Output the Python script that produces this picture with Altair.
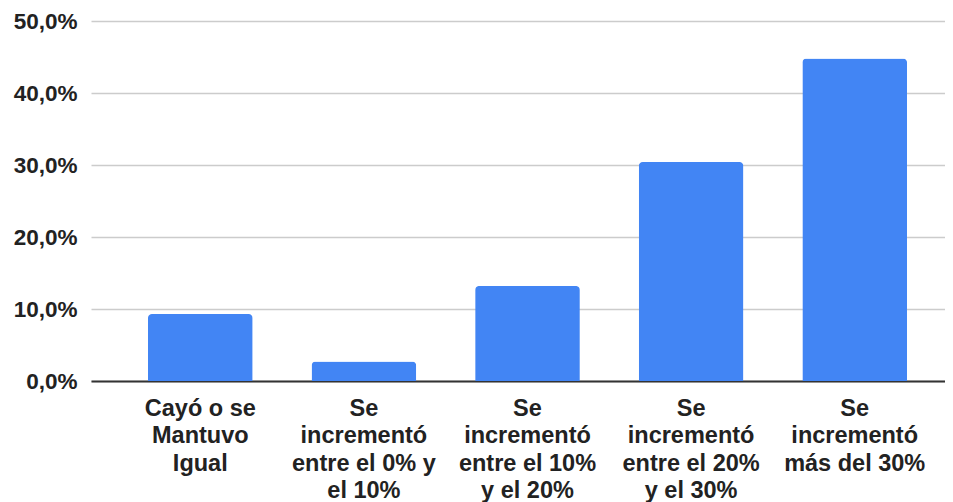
import altair as alt
import pandas as pd

categories = [
    "Cayó o se\nMantuvo\nIgual",
    "Se\nincrementó\nentre el 0% y\nel 10%",
    "Se\nincrementó\nentre el 10%\ny el 20%",
    "Se\nincrementó\nentre el 20%\ny el 30%",
    "Se\nincrementó\nmás del 30%",
]
values = [9.3, 2.7, 13.2, 30.4, 44.8]
y_ticks = [0, 10, 20, 30, 40, 50]

df = pd.DataFrame({"cat": categories, "val": values})

chart = alt.Chart(df).mark_bar(
    color="#4285F4",
    cornerRadiusTopLeft=4,
    cornerRadiusTopRight=4,
).encode(
    x=alt.X(
        "cat:N",
        sort=categories,
        title=None,
        scale=alt.Scale(paddingInner=0.36, paddingOuter=0.29, align=0.6),
        axis=alt.Axis(
            labelAngle=0,
            labelExpr="split(datum.label, '\\n')",
            labelFont="Liberation Sans",
            labelFontWeight="bold",
            labelFontSize=23.5,
            labelColor="#222222",
            labelLineHeight=27.5,
            labelPadding=15,
            labelBaseline="top",
            labelAlign="center",
            ticks=False,
            tickSize=0,
            domainColor="#333333",
            domainWidth=2,
            grid=False,
            labelOverlap=False,
            labelLimit=0,
        ),
    ),
    y=alt.Y(
        "val:Q",
        title=None,
        scale=alt.Scale(domain=[0, 50], nice=False),
        axis=alt.Axis(
            values=y_ticks,
            labelExpr="replace(format(datum.value, '.1f'), '.', ',') + '%'",
            labelFont="Liberation Sans",
            labelFontWeight="bold",
            labelFontSize=22.5,
            labelColor="#222222",
            labelPadding=14,
            ticks=False,
            tickSize=0,
            domain=False,
            gridColor="#cccccc",
            gridWidth=1.5,
        ),
    ),
).properties(
    width=854,
    height=360,
    autosize=alt.AutoSizeParams(type="none"),
    padding={"left": 83, "top": 13, "right": 0, "bottom": 121},
).configure_view(stroke=None)

chart.save("out.html", embed_options={"renderer": "svg", "actions": False})
